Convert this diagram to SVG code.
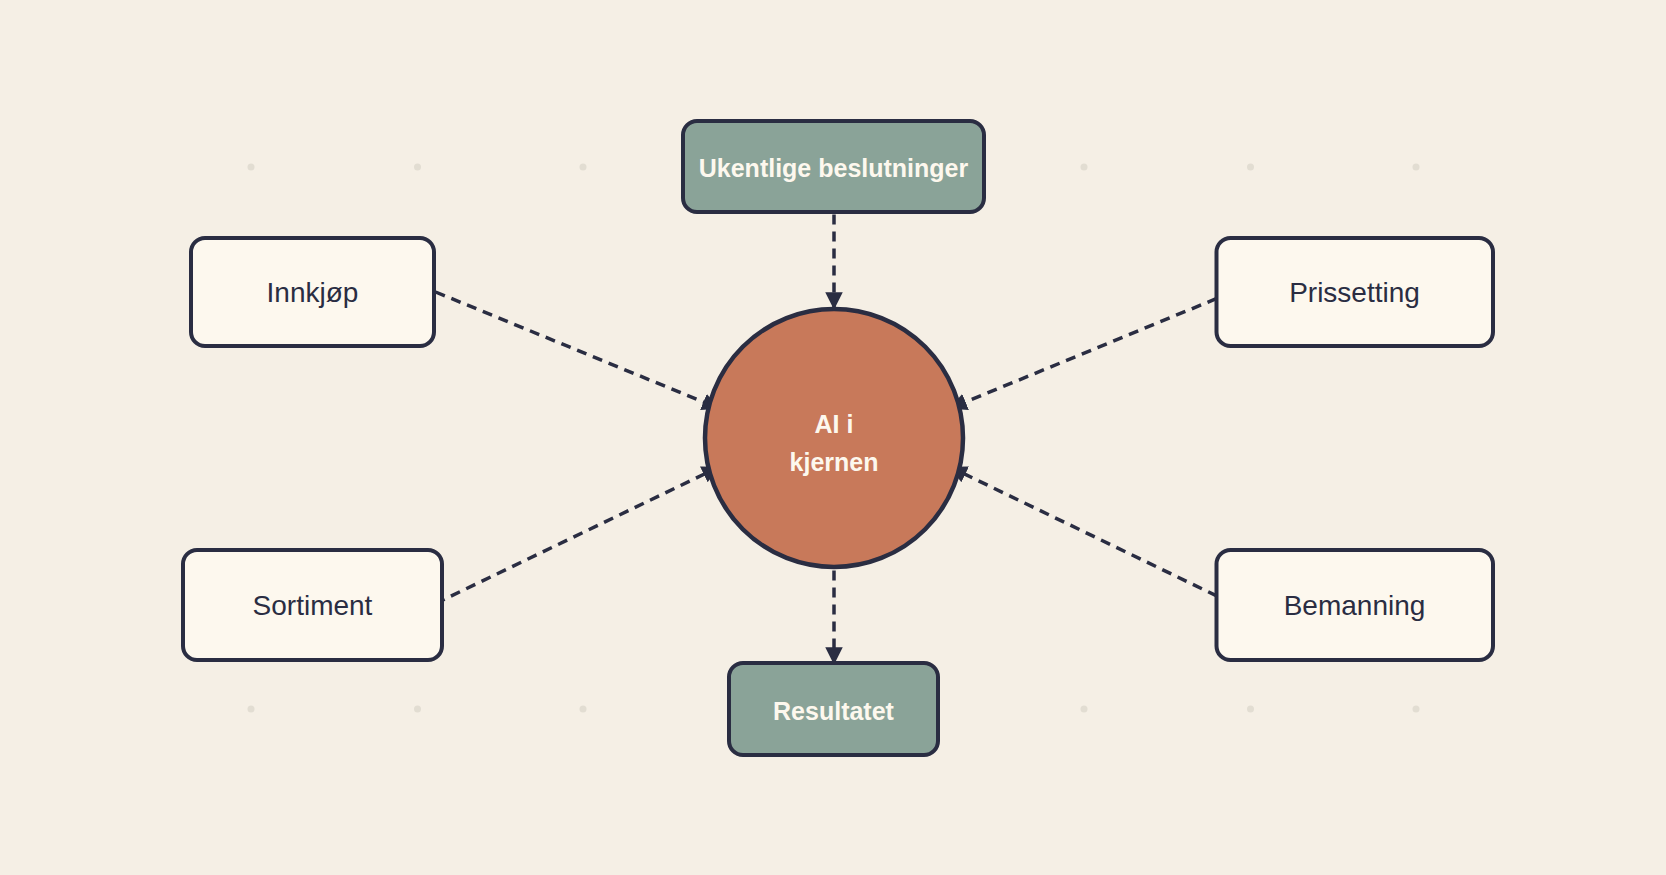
<svg xmlns="http://www.w3.org/2000/svg" width="1666" height="875" viewBox="0 0 1666 875">
<style>
.n{fill:#fdf8ee;stroke:#2a2d42;stroke-width:4}
.g{fill:#8aa398;stroke:#2a2d42;stroke-width:4}
.t{font-family:"Liberation Sans",Arial,sans-serif;font-size:28px;fill:#2a2d42;text-anchor:middle;dominant-baseline:central}
.b{font-family:"Liberation Sans",Arial,sans-serif;font-size:25px;font-weight:bold;fill:#fdf8ee;text-anchor:middle;dominant-baseline:central}
.c{stroke:#2a2d42;stroke-width:3.5;stroke-dasharray:10 7;fill:none;marker-end:url(#a)}
.d{fill:#e2ddd2}
</style>
<defs><marker id="a" viewBox="0 0 10 10" refX="9" refY="5" markerWidth="5" markerHeight="5" orient="auto"><path d="M0,0L10,5L0,10z" fill="#2a2d42"/></marker></defs>
<rect width="1666" height="875" fill="#f5efe5"/>
<g>
<circle class="d" cx="251" cy="167" r="3.5"/><circle class="d" cx="417.5" cy="167" r="3.5"/><circle class="d" cx="583" cy="167" r="3.5"/><circle class="d" cx="1084" cy="167" r="3.5"/><circle class="d" cx="1250.5" cy="167" r="3.5"/><circle class="d" cx="1416" cy="167" r="3.5"/>
<circle class="d" cx="251" cy="709" r="3.5"/><circle class="d" cx="417.5" cy="709" r="3.5"/><circle class="d" cx="583" cy="709" r="3.5"/><circle class="d" cx="1084" cy="709" r="3.5"/><circle class="d" cx="1250.5" cy="709" r="3.5"/><circle class="d" cx="1416" cy="709" r="3.5"/>
</g>
<g id="connectors">
<path class="c" d="M834,214.5V308"/>
<path class="c" d="M834,570.5V663"/>
<path class="c" d="M435.6,292L718,408"/>
<path class="c" d="M1232.5,292L951,408"/>
<path class="c" d="M435.6,603.5L718,467.5"/>
<path class="c" d="M1232.5,603.5L951,467.5"/>
</g>
<g id="center"><circle cx="834" cy="438" r="129" fill="#c8795a" stroke="#2a2d42" stroke-width="4.5"/>
<text class="b" x="834" y="424">AI i</text><text class="b" x="834" y="462">kjernen</text></g>
<g id="top"><rect class="g" x="683" y="121" width="301" height="91" rx="14"/><text class="b" x="833.5" y="168">Ukentlige beslutninger</text></g>
<g id="bottom"><rect class="g" x="729" y="663" width="209" height="92" rx="14"/><text class="b" x="833.5" y="711">Resultatet</text></g>
<g id="innkjop"><rect class="n" x="191" y="238" width="243" height="108" rx="14"/><text class="t" x="312.5" y="292">Innkjøp</text></g>
<g id="prissetting"><rect class="n" x="1216.5" y="238" width="276.5" height="108" rx="14"/><text class="t" x="1354.5" y="292">Prissetting</text></g>
<g id="sortiment"><rect class="n" x="183" y="550" width="259" height="110" rx="14"/><text class="t" x="312.5" y="605">Sortiment</text></g>
<g id="bemanning"><rect class="n" x="1216.5" y="550" width="276.5" height="110" rx="14"/><text class="t" x="1354.5" y="605">Bemanning</text></g>
</svg>
